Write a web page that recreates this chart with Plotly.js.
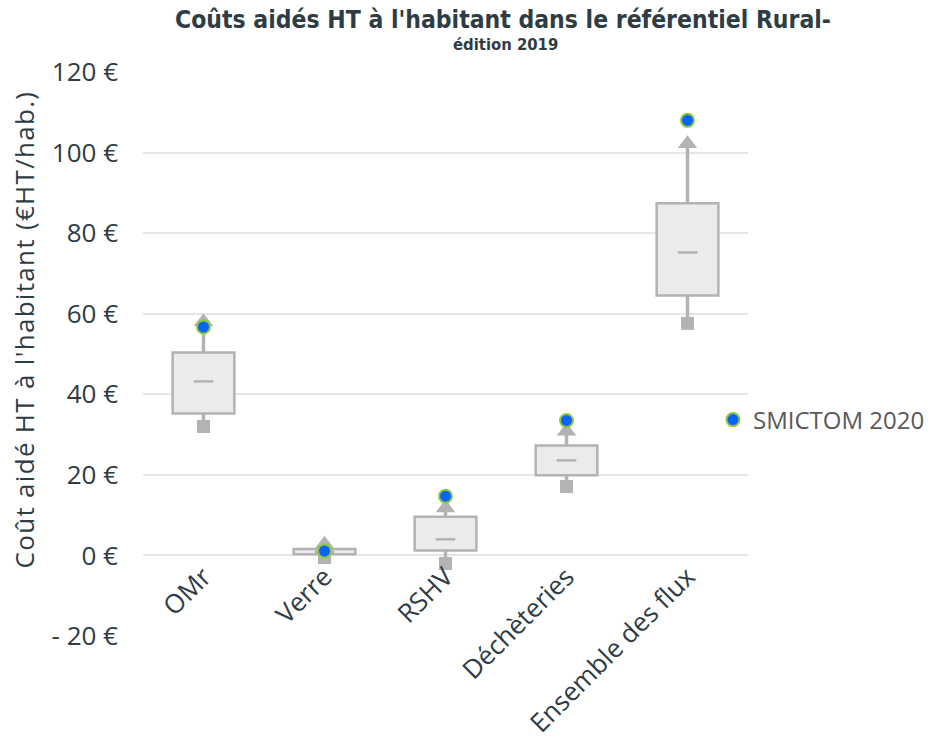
<!DOCTYPE html>
<html>
<head>
<meta charset="utf-8">
<script src="https://cdn.plot.ly/plotly-3.0.1.min.js"></script>
<style>
html,body{margin:0;padding:0;background:#fff;}
#chart{width:932px;height:749px;}
#chart g.annotation[data-index="0"] .annotation-text{letter-spacing:1.3px;}
</style>
</head>
<body>
<div id="chart"></div>
<script>
// Data (€HT / habitant)
const categories = ["OMr", "Verre", "RSHV", "Déchèteries", "Ensemble des flux"];
const minValues    = [32.0, -0.5, -2.0, 17.1, 57.6];
const q1Values     = [35.2,  0.3,  1.2, 19.9, 64.5];
const medianValues = [43.2,  0.9,  4.0, 23.6, 75.2];
const q3Values     = [50.4,  1.6,  9.6, 27.3, 87.4];
const maxValues    = [58.0,  2.8, 11.8, 30.8, 102.2];
const smictom2020  = [56.7,  1.1, 14.7, 33.5, 108.0];
const yTickValues  = [-20, 0, 20, 40, 60, 80, 100, 120];
const yTickLabels  = ["- 20 €", "0 €", "20 €", "40 €", "60 €", "80 €", "100 €", "120 €"];

const GRAY = "#b3b3b3";
const TEXT = "#2e3c44";
const FONT = "Open Sans";

// whisker segments built from the data arrays
const wx = [], wy = [];
categories.forEach((c, i) => {
  wx.push(c, c, null, c, c, null);
  wy.push(q3Values[i], maxValues[i], null, q1Values[i], minValues[i], null);
});

const traces = [
  { type: "scatter", mode: "lines", x: wx, y: wy, line: {color: GRAY, width: 3.5},
    showlegend: false, hoverinfo: "skip", cliponaxis: false },
  { type: "bar", x: categories, base: q1Values,
    y: q3Values.map((v, i) => v - q1Values[i]),
    width: 0.51, marker: {color: "#ebebeb", line: {color: GRAY, width: 2.5}},
    showlegend: false },
  { type: "scatter", mode: "markers", x: categories, y: maxValues,
    marker: {symbol: "triangle-up", size: 17, color: GRAY}, showlegend: false, cliponaxis: false },
  { type: "scatter", mode: "markers", x: categories, y: minValues,
    marker: {symbol: "square", size: 13, color: GRAY}, showlegend: false, cliponaxis: false },
  { type: "scatter", mode: "markers", x: categories, y: medianValues,
    marker: {symbol: "line-ew", size: 14, color: GRAY, line: {color: GRAY, width: 2.5}},
    showlegend: false },
  { type: "scatter", mode: "markers", x: categories, y: smictom2020, name: "SMICTOM 2020",
    marker: {symbol: "circle", size: 13, color: "#0a64fa", line: {color: "#8dc63f", width: 2}},
    showlegend: true, cliponaxis: false }
];

const layout = {
  width: 932, height: 749,
  margin: {l: 143, r: 184, t: 72, b: 113, pad: 0, autoexpand: false},
  paper_bgcolor: "#ffffff", plot_bgcolor: "#ffffff",
  font: {family: FONT, size: 26, color: TEXT},
  title: {
    text: "<b>Coûts aidés HT à l'habitant dans le référentiel Rural-</b>",
    font: {family: "DejaVu Sans Condensed", size: 24.5, color: TEXT},
    x: 503 / 932, xref: "container", xanchor: "center",
    y: 1 - 19 / 749, yref: "container", yanchor: "middle"
  },
  xaxis: {
    type: "category", anchor: "free", position: 20 / 140,
    showline: false, showgrid: false, zeroline: false, ticks: "",
    tickangle: -45, tickfont: {family: FONT, size: 26, color: TEXT},
    range: [-0.5, 4.5], fixedrange: true
  },
  yaxis: {
    range: [-20, 120], tickvals: yTickValues, ticktext: yTickLabels,
    showgrid: true, gridcolor: "#e6e6e6", gridwidth: 2, zeroline: false, showline: false,
    ticks: "", ticklabelstandoff: 24, tickfont: {family: FONT, size: 26, color: TEXT},
    automargin: false
  },
  showlegend: true,
  legend: {
    x: (713 - 143) / 605, xanchor: "left", y: (636 - 420) / 564, yanchor: "middle",
    font: {family: FONT, size: 24, color: "#595959"}, bgcolor: "rgba(0,0,0,0)",
    itemwidth: 30
  },
  annotations: [{
    text: "Coût aidé HT à l'habitant (€HT/hab.)", textangle: -90,
    xref: "paper", yref: "paper", x: (24 - 143) / 605, y: (636 - 330) / 564,
    xanchor: "center", yanchor: "middle", showarrow: false,
    font: {family: FONT, size: 26, color: TEXT}
  }, {
    text: "<b>édition 2019</b>",
    xref: "paper", yref: "paper", x: (505 - 143) / 605, y: (636 - 44) / 564,
    xanchor: "center", yanchor: "middle", showarrow: false,
    font: {family: "DejaVu Sans Condensed", size: 16.5, color: TEXT}
  }],
  bargap: 0
};

Plotly.newPlot("chart", traces, layout, {displayModeBar: false, staticPlot: true});
</script>
</body>
</html>
